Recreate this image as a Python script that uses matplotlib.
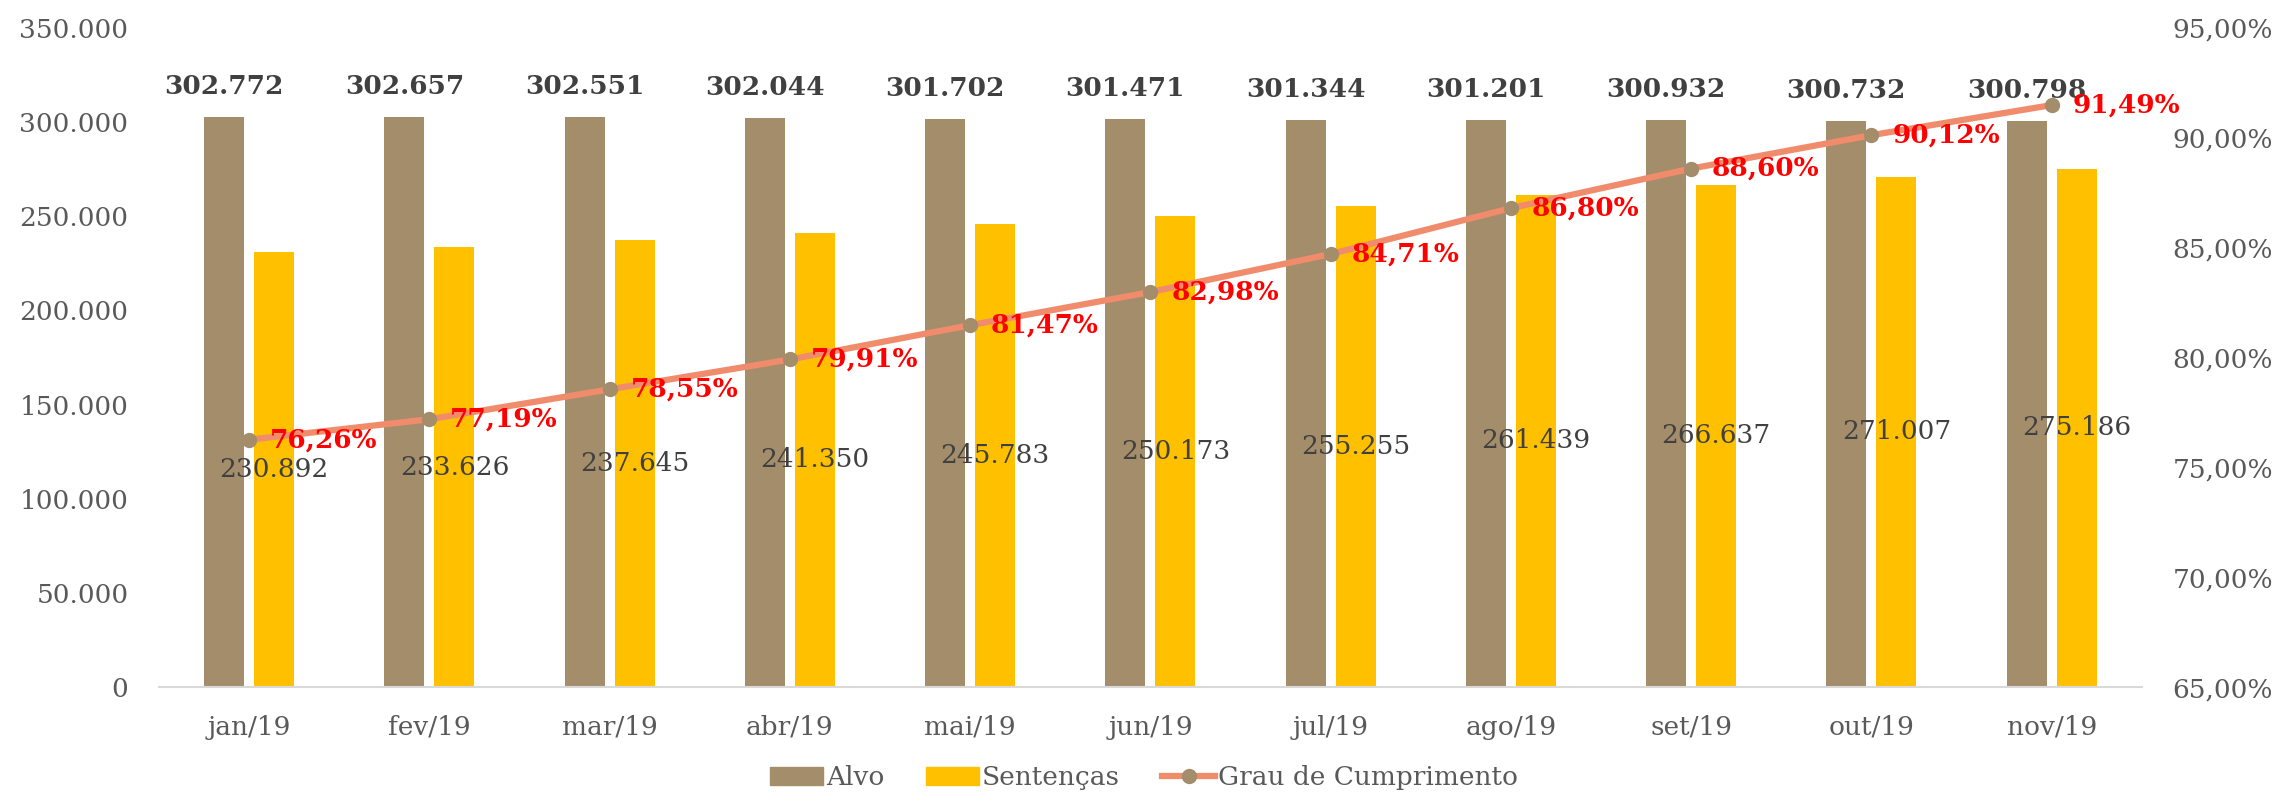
import matplotlib
matplotlib.use('Agg')
import matplotlib.pyplot as plt
from matplotlib.ticker import FuncFormatter
from matplotlib.lines import Line2D
from matplotlib.patches import Patch
import numpy as np

plt.rcParams['font.family'] = ['DejaVu Serif']

meses = ['jan/19', 'fev/19', 'mar/19', 'abr/19', 'mai/19', 'jun/19',
         'jul/19', 'ago/19', 'set/19', 'out/19', 'nov/19']
alvo = [302772, 302657, 302551, 302044, 301702, 301471,
        301344, 301201, 300932, 300732, 300798]
sentencas = [230892, 233626, 237645, 241350, 245783, 250173,
             255255, 261439, 266637, 271007, 275186]
grau = [76.26, 77.19, 78.55, 79.91, 81.47, 82.98,
        84.71, 86.80, 88.60, 90.12, 91.49]

cor_alvo = '#A48D6B'
cor_sent = '#FFC000'
cor_linha = '#F08C6C'
cor_txt = '#595959'
fs = 19


def milhar(v):
    return f'{int(round(v)):,}'.replace(',', '.')


def pct(v):
    return f'{v:.2f}%'.replace('.', ',')


fig = plt.figure(figsize=(22.88, 8.06), dpi=100)
ax = fig.add_axes([0.0695, 0.1476, 0.8666, 0.8177])

x = np.arange(len(meses))
w = 0.222
off = 0.139
b1 = ax.bar(x - off, alvo, w, color=cor_alvo, label='Alvo')
b2 = ax.bar(x + off, sentencas, w, color=cor_sent, label='Sentenças')

ax.bar_label(b1, labels=[milhar(v) for v in alvo], padding=13,
             fontsize=fs, fontweight='bold', color='#404040')
ax.bar_label(b2, labels=[milhar(v) for v in sentencas], label_type='center',
             fontsize=fs, color='#404040')

ax.set_xlim(-0.5, len(meses) - 0.5)
ax.set_ylim(0, 350000)
ax.set_yticks(np.arange(0, 350001, 50000))
ax.yaxis.set_major_formatter(FuncFormatter(lambda v, p: milhar(v)))
ax.set_xticks(x)
ax.set_xticklabels(meses)
ax.tick_params(axis='both', length=0, labelsize=fs, colors=cor_txt)
ax.tick_params(axis='y', pad=22)
ax.tick_params(axis='x', pad=20)
for s in ['top', 'right', 'left']:
    ax.spines[s].set_visible(False)
ax.spines['bottom'].set_color('#D9D9D9')
ax.spines['bottom'].set_linewidth(1.5)

ax2 = ax.twinx()
ax2.plot(x, grau, color=cor_linha, lw=4.5, marker='o', markersize=10,
         markerfacecolor=cor_alvo, markeredgecolor=cor_alvo, zorder=3)
for xi, g in zip(x, grau):
    ax2.annotate(pct(g), (xi, g), xytext=(15, 0), textcoords='offset points',
                 ha='left', va='center', fontsize=fs, fontweight='bold',
                 color='#FF0000')
ax2.set_ylim(65, 95)
ax2.set_yticks(np.arange(65, 95.1, 5))
ax2.yaxis.set_major_formatter(FuncFormatter(lambda v, p: pct(v)))
ax2.tick_params(axis='y', length=0, labelsize=fs, colors=cor_txt, pad=22)
for s in ['top', 'right', 'left', 'bottom']:
    ax2.spines[s].set_visible(False)

handles = [Patch(color=cor_alvo), Patch(color=cor_sent),
           Line2D([], [], color=cor_linha, lw=4.5, marker='o', markersize=10,
                  markerfacecolor=cor_alvo, markeredgecolor=cor_alvo)]
leg = fig.legend(handles, ['Alvo', 'Sentenças', 'Grau de Cumprimento'],
                 loc='lower center', bbox_to_anchor=(0.5, -0.01), ncol=3,
                 frameon=False, fontsize=fs, handlelength=2.0,
                 handletextpad=0.1, columnspacing=1.6)
for t in leg.get_texts():
    t.set_color(cor_txt)

fig.savefig('out.png', dpi=100)
